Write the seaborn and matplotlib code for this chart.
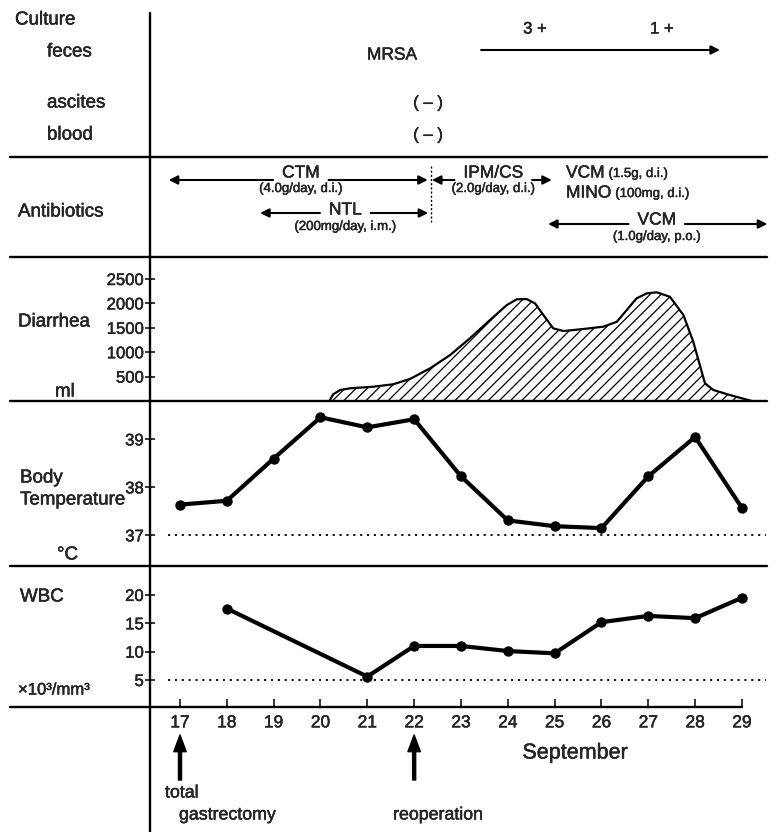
import matplotlib
matplotlib.use("Agg")
import matplotlib.pyplot as plt
import matplotlib.patheffects as pe
import seaborn as sns
from matplotlib.lines import Line2D
from matplotlib.text import Text

# --- data ---

days = list(range(17, 30))

temp_days = list(range(17, 30))
temp_values = [37.64, 37.72, 38.60, 39.46, 39.25, 39.42, 38.23,
               37.31, 37.19, 37.15, 38.23, 39.05, 37.57]

wbc_days = [18, 21, 22, 23, 24, 25, 26, 27, 28, 29]
wbc_values = [17.6, 5.6, 11.0, 11.0, 10.1, 9.7, 15.2, 16.3, 15.9, 19.5]

diarrhea_days = [20.19, 20.27, 20.42, 20.63, 21.13, 21.55, 21.91, 22.34, 22.77,
                 23.19, 23.62, 23.98, 24.19, 24.40, 24.58, 24.76, 24.97, 25.19,
                 25.61, 26.04, 26.33, 26.54, 26.75, 26.97, 27.18, 27.46, 27.75,
                 27.96, 28.10, 28.21, 28.39, 28.74, 29.21]
diarrhea_ml = [0, 137, 225, 260, 293, 342, 451, 669, 943,
               1284, 1660, 1967, 2083, 2090, 2002, 1762, 1489, 1434,
               1475, 1523, 1625, 1865, 2104, 2207, 2227, 2137, 1762,
               1215, 738, 363, 225, 123, 0]

diarrhea_ticks = [500, 1000, 1500, 2000, 2500]
temp_ticks = [37, 38, 39]
wbc_ticks = [5, 10, 15, 20]
temp_ref = 37
wbc_ref = 5

# antibiotic courses: name, dose, start day, end day, day of the label
abx_names = ["CTM", "NTL", "IPM/CS", "VCM"]
abx_doses = ["(4.0g/day, d.i.)", "(200mg/day, i.m.)", "(2.0g/day, d.i.)", "(1.0g/day, p.o.)"]
abx_start = [16.76, 18.71, 22.38, 24.86]
abx_end = [22.29, 22.30, 24.94, 29.54]
abx_label_day = [19.58, 20.53, 23.69, 27.18]
switch_day = 22.35

# feces culture MRSA
mrsa_start, mrsa_end = 23.43, 28.53
mrsa_grades = ["3 +", "1 +"]
mrsa_grade_days = [24.58, 27.29]
negative_day = 22.30

event_days = [17, 22]

# --- layout helpers (pixel positions of the original figure) ---
W, H = 778, 832
PX0, PX_PER_DAY = 180, 46.83


def day_at(px):
    return 17 + (px - PX0) / PX_PER_DAY


def fx(px):
    return px / W


def fy(py):
    return 1 - py / H


def rect(x0, y0, x1, y1):
    return [fx(x0), fy(y1), (x1 - x0) / W, (y1 - y0) / H]


sns.set_style("white")
plt.rcParams["font.family"] = ["Liberation Sans", "DejaVu Sans"]
plt.rcParams["hatch.linewidth"] = 0.9

fig = plt.figure(figsize=(W / 100, H / 100), dpi=100)
XL = (day_at(150), day_at(767))

ax_cul = fig.add_axes(rect(150, 0, 767, 157))
ax_ab = fig.add_axes(rect(150, 157, 767, 257))
ax_dia = fig.add_axes(rect(150, 257, 767, 401))
ax_tmp = fig.add_axes(rect(150, 401, 767, 566))
ax_wbc = fig.add_axes(rect(150, 566, 767, 707))

for ax, yl in [(ax_cul, (157, 0)), (ax_ab, (257, 157))]:
    ax.set_xlim(XL)
    ax.set_ylim(yl)
    ax.axis("off")

for ax in [ax_dia, ax_tmp, ax_wbc]:
    ax.set_xlim(XL)
    ax.patch.set_alpha(0)
    for s in ax.spines.values():
        s.set_visible(False)
    ax.tick_params(axis="y", direction="inout", length=7, width=1.3,
                   labelsize=12, pad=1, left=True)
    ax.tick_params(axis="x", bottom=False, labelbottom=False)

# --- frame lines ---
frame = dict(transform=fig.transFigure, color="black", lw=1.7)
for y in [157, 257, 401, 566]:
    fig.add_artist(Line2D([fx(10), fx(767)], [fy(y), fy(y)], **frame))
fig.add_artist(Line2D([fx(10), fx(742)], [fy(707), fy(707)], **frame))
fig.add_artist(Line2D([fx(150), fx(150)], [fy(13), fy(832)], **frame))

# --- row labels ---
lab = dict(fontsize=13.5, ha="left", va="center")
fig.text(fx(15), fy(20), "Culture", **lab)
fig.text(fx(47), fy(52), "feces", **lab)
fig.text(fx(47), fy(103), "ascites", **lab)
fig.text(fx(47), fy(135), "blood", **lab)
fig.text(fx(18), fy(212), "Antibiotics", **lab)
fig.text(fx(18), fy(322), "Diarrhea", **lab)
fig.text(fx(55), fy(392), "ml", **lab)
fig.text(fx(20), fy(478), "Body", **lab)
fig.text(fx(20), fy(500), "Temperature", **lab)
fig.text(fx(57), fy(555), "°C", **lab)
fig.text(fx(20), fy(597), "WBC", **lab)
fig.text(fx(18), fy(690), "×10³/mm³", fontsize=12, ha="left", va="center")

# --- culture ---
thin = dict(arrowstyle="-|>", lw=1.5, color="black", mutation_scale=13,
            shrinkA=0, shrinkB=0)
ax_cul.text(day_at(392), 55, "MRSA", fontsize=12.5, ha="center", va="center")
ax_cul.annotate("", xy=(mrsa_end, 50), xytext=(mrsa_start, 50), arrowprops=thin)
for g, d in zip(mrsa_grades, mrsa_grade_days):
    ax_cul.text(d, 29, g, fontsize=12, ha="center", va="center")
for y in [103, 135]:
    ax_cul.text(negative_day, y, "( – )", fontsize=12, ha="center", va="center")

# --- antibiotics ---
renderer = fig.canvas.get_renderer()
inv = ax_ab.transData.inverted()
abx_rows = [(173, 189, 180), (210, 227, 213), (173, 189, 180), (220, 237, 224)]
for name, dose, d0, d1, mid, (ty, dy, ay) in zip(abx_names, abx_doses, abx_start,
                                                 abx_end, abx_label_day, abx_rows):
    t = ax_ab.text(mid, ty, name, fontsize=12.5, ha="center", va="center")
    ax_ab.text(mid, dy, dose, fontsize=9.5, ha="center", va="center")
    bb = t.get_window_extent(renderer)
    g0 = inv.transform((bb.x0 - 9, 0))[0]
    g1 = inv.transform((bb.x1 + 9, 0))[0]
    ax_ab.annotate("", xy=(d0, ay), xytext=(g0, ay), arrowprops=thin)
    ax_ab.annotate("", xy=(d1, ay), xytext=(g1, ay), arrowprops=thin)

ax_ab.vlines(switch_day, 166, 222, colors="black", linestyles=(0, (1.5, 1.5)), lw=1)

for main, sub, y in [("VCM", "(1.5g, d.i.)", 173), ("MINO", "(100mg, d.i.)", 193)]:
    t = ax_ab.text(day_at(566), y, main, fontsize=12.5, ha="left", va="center")
    bb = t.get_window_extent(renderer)
    xs = inv.transform((bb.x1 + 4, 0))[0]
    ax_ab.text(xs, y + 1, sub, fontsize=9.5, ha="left", va="center")

# --- diarrhea ---
ax_dia.fill_between(diarrhea_days, diarrhea_ml, 0, facecolor="white",
                    edgecolor="black", hatch="///", linewidth=0)
sns.lineplot(x=diarrhea_days, y=diarrhea_ml, ax=ax_dia, color="black",
             lw=1.6, estimator=None, sort=False)
ax_dia.set_ylim(0, 2951)
ax_dia.set_yticks(diarrhea_ticks)

# --- body temperature ---
sns.lineplot(x=temp_days, y=temp_values, ax=ax_tmp, color="black", lw=3.0,
             marker="o", markersize=7.5, markeredgewidth=0, estimator=None)
ax_tmp.hlines(temp_ref, day_at(168), day_at(766), colors="black",
              linestyles=(0, (1.2, 2.6)), lw=1.3)
ax_tmp.set_ylim(36.36, 39.80)
ax_tmp.set_yticks(temp_ticks)

# --- WBC ---
sns.lineplot(x=wbc_days, y=wbc_values, ax=ax_wbc, color="black", lw=3.0,
             marker="o", markersize=7.5, markeredgewidth=0, estimator=None)
ax_wbc.hlines(wbc_ref, day_at(168), day_at(766), colors="black",
              linestyles=(0, (1.2, 2.6)), lw=1.3)
ax_wbc.set_ylim(0.235, 25.1)
ax_wbc.set_yticks(wbc_ticks)
ax_wbc.set_xticks(days)
ax_wbc.tick_params(axis="x", bottom=True, labelbottom=True, direction="in",
                   length=6, width=1.3, pad=6, labelsize=12.5)
for ax in [ax_dia, ax_tmp, ax_wbc]:
    ax.set_xlim(XL)
    ax.set_xlabel("")
    ax.set_ylabel("")

# --- events below the axis ---
big = dict(width=2.2, headwidth=9, headlength=12, color="black", shrink=0)
for d in event_days:
    ax_wbc.annotate("", xy=(d, fy(735)), xytext=(d, fy(780)),
                    xycoords=("data", "figure fraction"),
                    textcoords=("data", "figure fraction"), arrowprops=big)
fig.text(fx(165), fy(793), "total", fontsize=12.8, ha="left", va="center")
fig.text(fx(179), fy(815), "gastrectomy", fontsize=12.8, ha="left", va="center")
fig.text(fx(438), fy(815), "reoperation", fontsize=12.8, ha="center", va="center")
fig.text(fx(575), fy(753), "September", fontsize=15.5, ha="center", va="center")

# scanned print looks a little heavier than the plain font
fig.canvas.draw()
for t in fig.findobj(Text):
    if t.get_text():
        t.set_path_effects([pe.withStroke(linewidth=0.3, foreground="black")])

fig.savefig("out.png", dpi=100)
